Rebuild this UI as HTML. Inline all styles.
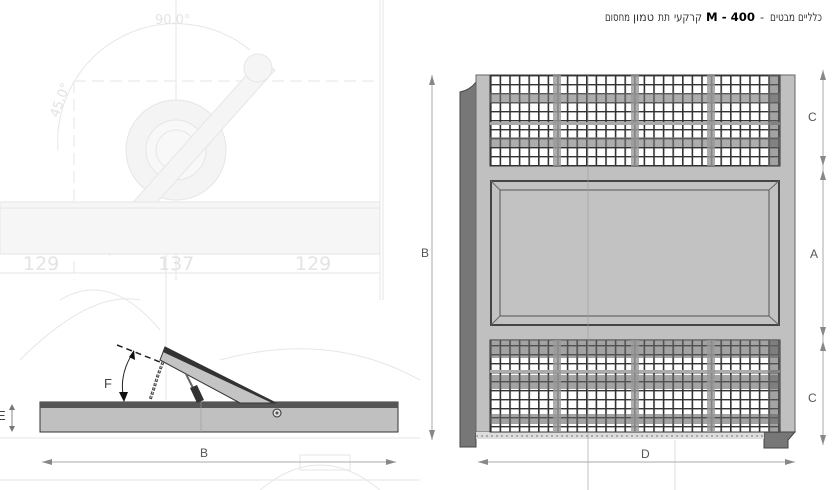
<!DOCTYPE html>
<html><head><meta charset="utf-8"><style>
html,body{margin:0;padding:0;background:#fff;width:836px;height:490px;overflow:hidden;position:relative}
svg{display:block}
</style></head><body>
<svg width="836" height="490" viewBox="0 0 836 490" xmlns="http://www.w3.org/2000/svg" font-family="Liberation Sans, sans-serif">
<defs>
<pattern id="grid" x="490" y="75" width="9.6" height="9" patternUnits="userSpaceOnUse">
<rect width="9.6" height="9" fill="#fff"/>
<rect x="0" y="0" width="1.6" height="9" fill="#333"/>
<rect x="0" y="0" width="9.6" height="1.4" fill="#333"/>
</pattern>
</defs>
<g stroke="#e6e6e6" fill="none" stroke-width="1">
<path d="M58 150 A118 118 0 0 1 250 50"/>
<line x1="176" y1="0" x2="176" y2="280"/>
<line x1="74" y1="81" x2="380" y2="81" stroke-dasharray="12,6"/>
<line x1="74" y1="218" x2="380" y2="218" stroke-dasharray="12,6"/>
<line x1="74" y1="81" x2="74" y2="280" stroke-dasharray="12,6"/>
<circle cx="176" cy="150" r="50" fill="#f4f4f4"/>
<circle cx="176" cy="150" r="30" fill="#f8f8f8"/>
<circle cx="176" cy="150" r="20"/>
<path d="M95 245 L260 60 L275 70 L110 255 Z" fill="#f5f5f5"/>
<circle cx="258" cy="68" r="14" fill="#f5f5f5"/>
<circle cx="95" cy="232" r="8"/>
<rect x="0" y="202" width="380" height="52" fill="#f6f6f6"/>
<line x1="0" y1="208" x2="380" y2="208"/>
<line x1="0" y1="273" x2="380" y2="273"/>
<line x1="380" y1="0" x2="380" y2="300"/>
<line x1="383" y1="0" x2="383" y2="300"/>
<path d="M60 300 Q110 270 160 330"/>
<path d="M20 360 Q90 290 140 300"/>
<path d="M220 360 Q330 330 420 380"/>
<line x1="166" y1="255" x2="166" y2="400"/>
<path d="M260 490 Q320 440 380 490"/>
<rect x="300" y="455" width="50" height="15"/>
<line x1="0" y1="438" x2="420" y2="438"/>
<line x1="0" y1="480" x2="420" y2="480"/>
</g>
<g fill="#e3e3e3" font-size="19" font-family="DejaVu Sans, sans-serif">
<text x="23" y="270">129</text><text x="158" y="270">137</text><text x="295" y="270">129</text>
<text x="155" y="24" font-size="13">90.0°</text>
</g>
<text x="0" y="0" fill="#e3e3e3" font-size="13" font-family="DejaVu Sans" transform="translate(58,118) rotate(-70)">45.0°</text>

<!-- title: each word placed explicitly -->
<g font-size="11.5" fill="#333" font-family="DejaVu Sans, sans-serif">
<text x="605" y="21" textLength="25" lengthAdjust="spacingAndGlyphs">מחסום</text>
<text x="633" y="21" textLength="21" lengthAdjust="spacingAndGlyphs">טמון</text>
<text x="658" y="21" textLength="12" lengthAdjust="spacingAndGlyphs">תת</text>
<text x="674" y="21" textLength="28" lengthAdjust="spacingAndGlyphs">קרקעי</text>
<text x="706" y="21" font-weight="bold" fill="#000" textLength="49" lengthAdjust="spacingAndGlyphs">M - 400</text>
<text x="760" y="21">-</text>
<text x="770" y="21" textLength="25" lengthAdjust="spacingAndGlyphs">מבטים</text>
<text x="798" y="21" textLength="24" lengthAdjust="spacingAndGlyphs">כלליים</text>
</g>

<rect x="40" y="402" width="358" height="30" fill="#c0c0c0" stroke="#333" stroke-width="1"/>
<rect x="40" y="402" width="358" height="6" fill="#555"/>
<line x1="201" y1="400" x2="201" y2="432" stroke="#999" stroke-width="0.6"/>
<polygon points="165,347 276,403 240,403 160,360" fill="#c4c4c4" stroke="#333" stroke-width="1"/>
<polygon points="165,347 276,403 272,403 163,352" fill="#333"/>
<circle cx="277" cy="413" r="4" fill="#ddd" stroke="#333"/>
<circle cx="277" cy="413" r="1.5" fill="#555"/>
<line x1="186" y1="374" x2="194" y2="390" stroke="#666" stroke-width="2"/>
<polygon points="190,388 197,385 204,400 197,403" fill="#333"/>
<path d="M163 362 L158 375 L154 388 L150 400" stroke="#444" stroke-width="3" fill="none" stroke-dasharray="3,1.5"/>
<path d="M163 362 L158 375 L154 388 L150 400" stroke="#ccc" stroke-width="1" fill="none" stroke-dasharray="2,2.5"/>
<line x1="117" y1="345" x2="160" y2="362" stroke="#222" stroke-width="1.5" stroke-dasharray="6,4"/>
<path d="M134 351 Q118 375 124 400" stroke="#222" fill="none" stroke-width="1"/>
<polygon points="134,350 135,360 129,357" fill="#111"/>
<polygon points="124,402 119,392 128,392" fill="#111"/>
<text x="104" y="388" font-size="13" fill="#444">F</text>
<text x="-3" y="420" font-size="13" fill="#444">E</text>
<line x1="12" y1="406" x2="12" y2="430" stroke="#888"/>
<polygon points="12,404 9,410 15,410" fill="#777"/>
<polygon points="12,432 9,426 15,426" fill="#777"/>
<line x1="42" y1="462" x2="396" y2="462" stroke="#aaa"/>
<polygon points="42,462 52,459 52,465" fill="#888"/>
<polygon points="396,462 386,459 386,465" fill="#888"/>
<text x="200" y="457" font-size="12" fill="#555">B</text>

<path d="M460 92 Q470 90 476 82 L476 447 L460 447 Z" fill="#777" stroke="#444"/>
<rect x="476" y="75" width="319" height="357" fill="#c0c0c0" stroke="#666"/>
<path d="M764 432 L795 432 L788 440 L788 448 L764 448 Z" fill="#777" stroke="#444"/>
<rect x="476" y="432" width="288" height="7" fill="#ddd"/>
<line x1="476" y1="436" x2="764" y2="436" stroke="#777" stroke-dasharray="2,3"/>
<g>
<rect x="490" y="75" width="290" height="91" fill="url(#grid)" stroke="#333"/>
<rect x="490" y="93" width="290" height="10" fill="#777" opacity="0.6"/>
<rect x="490" y="137" width="290" height="10" fill="#777" opacity="0.6"/>
<rect x="490" y="122" width="290" height="3" fill="#aaa"/>
<rect x="490" y="340" width="290" height="92" fill="url(#grid)" stroke="#333"/>
<rect x="490" y="340" width="290" height="18" fill="#666" opacity="0.6"/>
<rect x="490" y="375" width="290" height="14" fill="#666" opacity="0.6"/>
<rect x="490" y="414" width="290" height="10" fill="#666" opacity="0.6"/>
<rect x="490" y="370" width="290" height="3" fill="#aaa"/>
<rect x="553" y="75" width="8" height="91" fill="#999" opacity="0.8"/>
<rect x="631" y="75" width="8" height="91" fill="#999" opacity="0.8"/>
<rect x="707" y="75" width="8" height="91" fill="#999" opacity="0.8"/>
<rect x="553" y="340" width="8" height="92" fill="#999" opacity="0.8"/>
<rect x="631" y="340" width="8" height="92" fill="#999" opacity="0.8"/>
<rect x="707" y="340" width="8" height="92" fill="#999" opacity="0.8"/>
<rect x="768" y="75" width="12" height="91" fill="#666" opacity="0.6"/>
<rect x="768" y="340" width="12" height="92" fill="#666" opacity="0.6"/>
</g>
<rect x="491" y="181" width="288" height="144" fill="#c2c2c2" stroke="#444" stroke-width="2"/>
<rect x="500" y="190" width="269" height="126" fill="#c2c2c2" stroke="#555"/>
<g stroke="#666"><line x1="491" y1="181" x2="500" y2="190"/><line x1="779" y1="181" x2="769" y2="190"/><line x1="491" y1="325" x2="500" y2="316"/><line x1="779" y1="325" x2="769" y2="316"/></g>
<line x1="588" y1="75" x2="588" y2="490" stroke="#999" stroke-width="0.6"/>
<line x1="675" y1="440" x2="675" y2="490" stroke="#ddd"/>
<line x1="432" y1="75" x2="432" y2="440" stroke="#aaa"/>
<polygon points="432,75 429,85 435,85" fill="#888"/>
<polygon points="432,440 429,430 435,430" fill="#888"/>
<text x="421" y="257" font-size="12" fill="#555">B</text>
<line x1="823" y1="70" x2="823" y2="445" stroke="#aaa"/>
<polygon points="823,70 820,80 826,80" fill="#888"/>
<polygon points="823,166 820,156 826,156" fill="#888"/>
<polygon points="823,170 820,180 826,180" fill="#888"/>
<polygon points="823,337 820,327 826,327" fill="#888"/>
<polygon points="823,341 820,351 826,351" fill="#888"/>
<polygon points="823,445 820,435 826,435" fill="#888"/>
<text x="808" y="121" font-size="12" fill="#555">C</text>
<text x="810" y="258" font-size="12" fill="#555">A</text>
<text x="808" y="402" font-size="12" fill="#555">C</text>
<line x1="478" y1="462" x2="795" y2="462" stroke="#aaa"/>
<polygon points="478,462 488,459 488,465" fill="#888"/>
<polygon points="795,462 785,459 785,465" fill="#888"/>
<text x="641" y="458" font-size="12" fill="#555">D</text>
</svg>
</body></html>
